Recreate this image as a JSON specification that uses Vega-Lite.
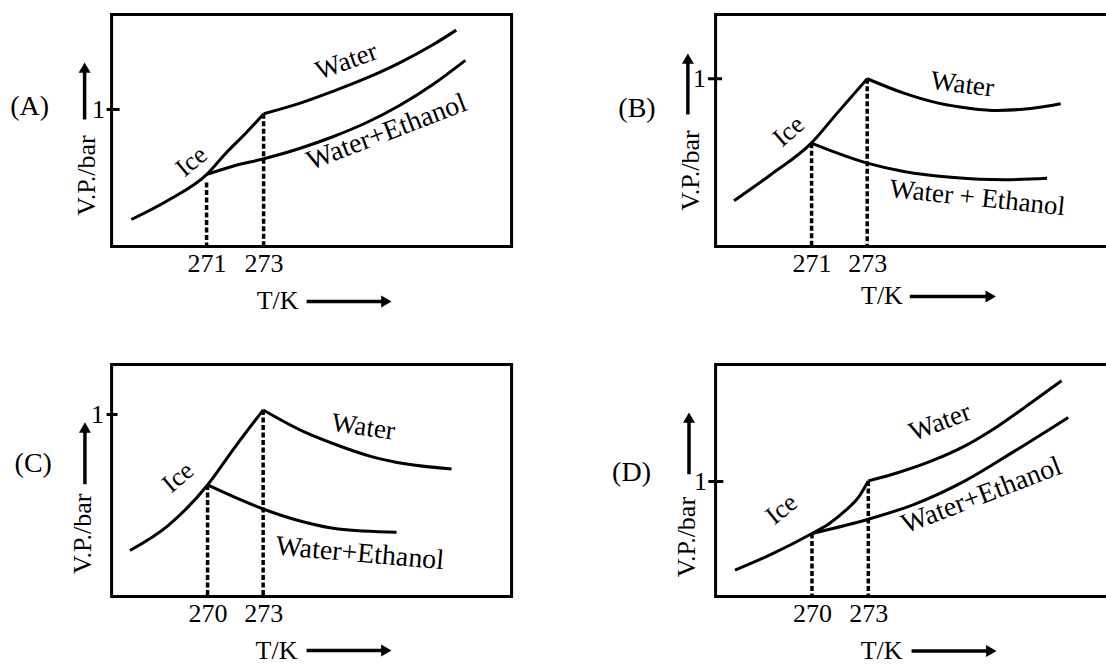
{
  "$schema": "https://vega.github.io/schema/vega-lite/v6.json",
  "background": "white",
  "padding": {"left": 8.6, "top": 12.5, "right": 0, "bottom": 0},
  "columns": 2,
  "spacing": {"row": 118, "column": 204},
  "bounds": "flush",
  "concat": [
    {
      "width": 400,
      "height": 232,
      "encoding": {
        "x": {"field": "T", "type": "quantitative", "scale": {"domain": [267.667, 281.702], "nice": false, "zero": false}, "axis": {"values": [271, 273], "title": null}},
        "y": {"field": "VP", "type": "quantitative", "scale": {"domain": [0, 1.693], "nice": false}, "axis": {"values": [1], "title": null, "labelPadding": 7}}
      },
      "layer": [
        {
          "data": {"values": [
            {"series": "Ice", "T": 268.36, "VP": 0.197}, {"series": "Ice", "T": 269.70, "VP": 0.343}, {"series": "Ice", "T": 271.01, "VP": 0.526}, {"series": "Ice", "T": 271.69, "VP": 0.684}, {"series": "Ice", "T": 272.39, "VP": 0.830}, {"series": "Ice", "T": 273.01, "VP": 0.969},
            {"series": "Water", "T": 273.01, "VP": 0.969}, {"series": "Water", "T": 274.26, "VP": 1.044}, {"series": "Water", "T": 275.43, "VP": 1.132}, {"series": "Water", "T": 276.60, "VP": 1.228}, {"series": "Water", "T": 277.77, "VP": 1.340}, {"series": "Water", "T": 278.94, "VP": 1.472}, {"series": "Water", "T": 279.76, "VP": 1.579},
            {"series": "Water+Ethanol", "T": 271.01, "VP": 0.526}, {"series": "Water+Ethanol", "T": 271.92, "VP": 0.586}, {"series": "Water+Ethanol", "T": 273.01, "VP": 0.640}, {"series": "Water+Ethanol", "T": 274.26, "VP": 0.715}, {"series": "Water+Ethanol", "T": 275.43, "VP": 0.801}, {"series": "Water+Ethanol", "T": 276.60, "VP": 0.903}, {"series": "Water+Ethanol", "T": 277.77, "VP": 1.029}, {"series": "Water+Ethanol", "T": 278.94, "VP": 1.182}, {"series": "Water+Ethanol", "T": 280.08, "VP": 1.358}
          ]},
          "mark": {"type": "line", "interpolate": "monotone", "color": "black", "strokeWidth": 3},
          "encoding": {"detail": {"field": "series"}}
        },
        {
          "data": {"values": [{"T": 271, "VP": 0.467}, {"T": 273, "VP": 0.969}]},
          "mark": {"type": "rule", "strokeDash": [5, 2.5], "strokeWidth": 3.5, "color": "black"},
          "encoding": {"y2": {"datum": 0}}
        },
        {
          "data": {"values": [{"T": 267.49, "T2": 267.95, "VP": 1}]},
          "mark": {"type": "rule", "strokeWidth": 3, "color": "black"},
          "encoding": {"x2": {"field": "T2"}}
        },
        {
          "data": {"values": [{"T": 266.72, "VP": 0.927, "T2": 266.72, "VP2": 1.292}, {"T": 274.509, "VP": -0.401, "T2": 277.309, "VP2": -0.401}]},
          "mark": {"type": "rule", "strokeWidth": 3.5, "color": "black"},
          "encoding": {"x2": {"field": "T2"}, "y2": {"field": "VP2"}}
        },
        {
          "data": {"values": [{"T": 266.72, "VP": 1.305}]},
          "mark": {"type": "point", "shape": "triangle-up", "size": 144, "filled": true, "color": "black", "opacity": 1}
        },
        {
          "data": {"values": [{"T": 277.309, "VP": -0.401}]},
          "mark": {"type": "point", "shape": "triangle-right", "size": 144, "filled": true, "color": "black", "opacity": 1}
        },
        {
          "data": {"values": [{"label": "(A)", "T": 264.79, "VP": 1.015}]},
          "mark": {"type": "text", "fontSize": 28},
          "encoding": {"text": {"field": "label"}}
        },
        {
          "data": {"values": [{"label": "T/K", "T": 273.49, "VP": -0.401}]},
          "mark": {"type": "text"},
          "encoding": {"text": {"field": "label"}}
        },
        {
          "data": {"values": [{"label": "V.P./bar", "T": 266.79, "VP": 0.518}]},
          "mark": {"type": "text", "angle": 270},
          "encoding": {"text": {"field": "label"}}
        },
        {
          "data": {"values": [{"label": "Ice", "T": 270.47, "VP": 0.62}]},
          "mark": {"type": "text", "angle": -40},
          "encoding": {"text": {"field": "label"}}
        },
        {
          "data": {"values": [{"label": "Water", "T": 275.91, "VP": 1.35}]},
          "mark": {"type": "text", "angle": -20, "fontSize": 27},
          "encoding": {"text": {"field": "label"}}
        },
        {
          "data": {"values": [{"label": "Water+Ethanol", "T": 277.32, "VP": 0.832}]},
          "mark": {"type": "text", "angle": -21, "fontSize": 28},
          "encoding": {"text": {"field": "label"}}
        }
      ]
    },
    {
      "width": 400,
      "height": 232,
      "encoding": {
        "x": {"field": "T", "type": "quantitative", "scale": {"domain": [267.547, 281.935], "nice": false, "zero": false}, "axis": {"values": [271, 273], "title": null}},
        "y": {"field": "VP", "type": "quantitative", "scale": {"domain": [0, 1.383], "nice": false}, "axis": {"values": [1], "title": null, "labelPadding": 10}}
      },
      "layer": [
        {
          "data": {"values": [
            {"series": "Ice", "T": 268.21, "VP": 0.273}, {"series": "Ice", "T": 269.53, "VP": 0.428}, {"series": "Ice", "T": 270.99, "VP": 0.616}, {"series": "Ice", "T": 271.92, "VP": 0.795}, {"series": "Ice", "T": 273.0, "VP": 1.0},
            {"series": "Water", "T": 273.0, "VP": 1.0}, {"series": "Water", "T": 274.32, "VP": 0.914}, {"series": "Water", "T": 275.52, "VP": 0.856}, {"series": "Water", "T": 276.72, "VP": 0.823}, {"series": "Water", "T": 277.68, "VP": 0.811}, {"series": "Water", "T": 278.88, "VP": 0.823}, {"series": "Water", "T": 279.96, "VP": 0.851},
            {"series": "Water+Ethanol", "T": 270.99, "VP": 0.616}, {"series": "Water+Ethanol", "T": 273.0, "VP": 0.497}, {"series": "Water+Ethanol", "T": 274.32, "VP": 0.447}, {"series": "Water+Ethanol", "T": 276.12, "VP": 0.411}, {"series": "Water+Ethanol", "T": 277.92, "VP": 0.398}, {"series": "Water+Ethanol", "T": 279.47, "VP": 0.407}
          ]},
          "mark": {"type": "line", "interpolate": "monotone", "color": "black", "strokeWidth": 3},
          "encoding": {"detail": {"field": "series"}}
        },
        {
          "data": {"values": [{"T": 271, "VP": 0.616}, {"T": 273, "VP": 1.0}]},
          "mark": {"type": "rule", "strokeDash": [5, 2.5], "strokeWidth": 3.5, "color": "black"},
          "encoding": {"y2": {"datum": 0}}
        },
        {
          "data": {"values": [{"T": 267.27, "T2": 267.78, "VP": 1}]},
          "mark": {"type": "rule", "strokeWidth": 3, "color": "black"},
          "encoding": {"x2": {"field": "T2"}}
        },
        {
          "data": {"values": [{"T": 266.55, "VP": 0.787, "T2": 266.55, "VP2": 1.12}, {"T": 274.533, "VP": -0.298, "T2": 277.442, "VP2": -0.298}]},
          "mark": {"type": "rule", "strokeWidth": 3.5, "color": "black"},
          "encoding": {"x2": {"field": "T2"}, "y2": {"field": "VP2"}}
        },
        {
          "data": {"values": [{"T": 266.55, "VP": 1.12}]},
          "mark": {"type": "point", "shape": "triangle-up", "size": 144, "filled": true, "color": "black", "opacity": 1}
        },
        {
          "data": {"values": [{"T": 277.442, "VP": -0.298}]},
          "mark": {"type": "point", "shape": "triangle-right", "size": 144, "filled": true, "color": "black", "opacity": 1}
        },
        {
          "data": {"values": [{"label": "(B)", "T": 264.72, "VP": 0.817}]},
          "mark": {"type": "text", "fontSize": 28},
          "encoding": {"text": {"field": "label"}}
        },
        {
          "data": {"values": [{"label": "T/K", "T": 273.53, "VP": -0.298}]},
          "mark": {"type": "text"},
          "encoding": {"text": {"field": "label"}}
        },
        {
          "data": {"values": [{"label": "V.P./bar", "T": 266.66, "VP": 0.453}]},
          "mark": {"type": "text", "angle": 270},
          "encoding": {"text": {"field": "label"}}
        },
        {
          "data": {"values": [{"label": "Ice", "T": 270.18, "VP": 0.686}]},
          "mark": {"type": "text", "angle": -41},
          "encoding": {"text": {"field": "label"}}
        },
        {
          "data": {"values": [{"label": "Water", "T": 276.42, "VP": 0.964}]},
          "mark": {"type": "text", "angle": 7, "fontSize": 27},
          "encoding": {"text": {"field": "label"}}
        },
        {
          "data": {"values": [{"label": "Water + Ethanol", "T": 276.96, "VP": 0.288}]},
          "mark": {"type": "text", "angle": 6, "fontSize": 27},
          "encoding": {"text": {"field": "label"}}
        }
      ]
    },
    {
      "width": 400,
      "height": 232,
      "encoding": {
        "x": {"field": "T", "type": "quantitative", "scale": {"domain": [264.82, 286.41], "nice": false, "zero": false}, "axis": {"values": [270, 273], "title": null}},
        "y": {"field": "VP", "type": "quantitative", "scale": {"domain": [0, 1.275], "nice": false}, "axis": {"values": [1], "title": null, "labelPadding": 8}}
      },
      "layer": [
        {
          "data": {"values": [
            {"series": "Ice", "T": 265.81, "VP": 0.253}, {"series": "Ice", "T": 267.87, "VP": 0.390}, {"series": "Ice", "T": 270.0, "VP": 0.613}, {"series": "Ice", "T": 271.47, "VP": 0.820}, {"series": "Ice", "T": 273.0, "VP": 1.025},
            {"series": "Water", "T": 273.0, "VP": 1.025}, {"series": "Water", "T": 275.25, "VP": 0.903}, {"series": "Water", "T": 277.05, "VP": 0.830}, {"series": "Water", "T": 278.85, "VP": 0.769}, {"series": "Water", "T": 280.65, "VP": 0.729}, {"series": "Water", "T": 283.17, "VP": 0.701},
            {"series": "Water+Ethanol", "T": 270.0, "VP": 0.613}, {"series": "Water+Ethanol", "T": 273.0, "VP": 0.481}, {"series": "Water+Ethanol", "T": 275.25, "VP": 0.408}, {"series": "Water+Ethanol", "T": 277.05, "VP": 0.371}, {"series": "Water+Ethanol", "T": 280.20, "VP": 0.353}
          ]},
          "mark": {"type": "line", "interpolate": "monotone", "color": "black", "strokeWidth": 3},
          "encoding": {"detail": {"field": "series"}}
        },
        {
          "data": {"values": [{"T": 270, "VP": 0.613}, {"T": 273, "VP": 1.025}]},
          "mark": {"type": "rule", "strokeDash": [5, 2.5], "strokeWidth": 3.5, "color": "black"},
          "encoding": {"y2": {"datum": 0}}
        },
        {
          "data": {"values": [{"T": 264.55, "T2": 265.14, "VP": 1}]},
          "mark": {"type": "rule", "strokeWidth": 3, "color": "black"},
          "encoding": {"x2": {"field": "T2"}}
        },
        {
          "data": {"values": [{"T": 263.38, "VP": 0.617, "T2": 263.38, "VP2": 0.929}, {"T": 275.343, "VP": -0.297, "T2": 279.649, "VP2": -0.297}]},
          "mark": {"type": "rule", "strokeWidth": 3.5, "color": "black"},
          "encoding": {"x2": {"field": "T2"}, "y2": {"field": "VP2"}}
        },
        {
          "data": {"values": [{"T": 263.38, "VP": 0.929}]},
          "mark": {"type": "point", "shape": "triangle-up", "size": 144, "filled": true, "color": "black", "opacity": 1}
        },
        {
          "data": {"values": [{"T": 279.649, "VP": -0.297}]},
          "mark": {"type": "point", "shape": "triangle-right", "size": 144, "filled": true, "color": "black", "opacity": 1}
        },
        {
          "data": {"values": [{"label": "(C)", "T": 260.59, "VP": 0.729}]},
          "mark": {"type": "text", "fontSize": 28},
          "encoding": {"text": {"field": "label"}}
        },
        {
          "data": {"values": [{"label": "T/K", "T": 273.72, "VP": -0.297}]},
          "mark": {"type": "text"},
          "encoding": {"text": {"field": "label"}}
        },
        {
          "data": {"values": [{"label": "V.P./bar", "T": 263.29, "VP": 0.345}]},
          "mark": {"type": "text", "angle": 270},
          "encoding": {"text": {"field": "label"}}
        },
        {
          "data": {"values": [{"label": "Ice", "T": 268.41, "VP": 0.655}]},
          "mark": {"type": "text", "angle": -40},
          "encoding": {"text": {"field": "label"}}
        },
        {
          "data": {"values": [{"label": "Water", "T": 278.40, "VP": 0.930}]},
          "mark": {"type": "text", "angle": 8, "fontSize": 27},
          "encoding": {"text": {"field": "label"}}
        },
        {
          "data": {"values": [{"label": "Water+Ethanol", "T": 278.22, "VP": 0.234}]},
          "mark": {"type": "text", "angle": 5, "fontSize": 28},
          "encoding": {"text": {"field": "label"}}
        }
      ]
    },
    {
      "width": 400,
      "height": 232,
      "encoding": {
        "x": {"field": "T", "type": "quantitative", "scale": {"domain": [264.867, 286.17], "nice": false, "zero": false}, "axis": {"values": [270, 273], "title": null}},
        "y": {"field": "VP", "type": "quantitative", "scale": {"domain": [0, 2.017], "nice": false}, "axis": {"values": [1], "title": null, "labelPadding": 9}}
      },
      "layer": [
        {
          "data": {"values": [
            {"series": "Ice", "T": 265.90, "VP": 0.229}, {"series": "Ice", "T": 267.85, "VP": 0.368}, {"series": "Ice", "T": 270.0, "VP": 0.548}, {"series": "Ice", "T": 270.87, "VP": 0.629}, {"series": "Ice", "T": 271.76, "VP": 0.744}, {"series": "Ice", "T": 272.47, "VP": 0.861}, {"series": "Ice", "T": 273.0, "VP": 1.005},
            {"series": "Water", "T": 273.0, "VP": 1.005}, {"series": "Water", "T": 274.60, "VP": 1.078}, {"series": "Water", "T": 276.37, "VP": 1.179}, {"series": "Water", "T": 278.15, "VP": 1.310}, {"series": "Water", "T": 279.92, "VP": 1.483}, {"series": "Water", "T": 281.69, "VP": 1.687}, {"series": "Water", "T": 283.29, "VP": 1.875},
            {"series": "Water+Ethanol", "T": 270.0, "VP": 0.548}, {"series": "Water+Ethanol", "T": 273.0, "VP": 0.672}, {"series": "Water+Ethanol", "T": 275.48, "VP": 0.803}, {"series": "Water+Ethanol", "T": 278.15, "VP": 1.005}, {"series": "Water+Ethanol", "T": 280.81, "VP": 1.266}, {"series": "Water+Ethanol", "T": 283.65, "VP": 1.557}
          ]},
          "mark": {"type": "line", "interpolate": "monotone", "color": "black", "strokeWidth": 3},
          "encoding": {"detail": {"field": "series"}}
        },
        {
          "data": {"values": [{"T": 270, "VP": 0.548}, {"T": 273, "VP": 1.005}]},
          "mark": {"type": "rule", "strokeDash": [5, 2.5], "strokeWidth": 3.5, "color": "black"},
          "encoding": {"y2": {"datum": 0}}
        },
        {
          "data": {"values": [{"T": 264.48, "T2": 265.28, "VP": 1}]},
          "mark": {"type": "rule", "strokeWidth": 3, "color": "black"},
          "encoding": {"x2": {"field": "T2"}}
        },
        {
          "data": {"values": [{"T": 263.45, "VP": 1.063, "T2": 263.45, "VP2": 1.555}, {"T": 275.304, "VP": -0.473, "T2": 279.553, "VP2": -0.473}]},
          "mark": {"type": "rule", "strokeWidth": 3.5, "color": "black"},
          "encoding": {"x2": {"field": "T2"}, "y2": {"field": "VP2"}}
        },
        {
          "data": {"values": [{"T": 263.45, "VP": 1.555}]},
          "mark": {"type": "point", "shape": "triangle-up", "size": 144, "filled": true, "color": "black", "opacity": 1}
        },
        {
          "data": {"values": [{"T": 279.553, "VP": -0.473}]},
          "mark": {"type": "point", "shape": "triangle-right", "size": 144, "filled": true, "color": "black", "opacity": 1}
        },
        {
          "data": {"values": [{"label": "(D)", "T": 260.39, "VP": 1.078}]},
          "mark": {"type": "text", "fontSize": 28},
          "encoding": {"text": {"field": "label"}}
        },
        {
          "data": {"values": [{"label": "T/K", "T": 273.71, "VP": -0.473}]},
          "mark": {"type": "text"},
          "encoding": {"text": {"field": "label"}}
        },
        {
          "data": {"values": [{"label": "V.P./bar", "T": 263.32, "VP": 0.516}]},
          "mark": {"type": "text", "angle": 270},
          "encoding": {"text": {"field": "label"}}
        },
        {
          "data": {"values": [{"label": "Ice", "T": 268.38, "VP": 0.759}]},
          "mark": {"type": "text", "angle": -39},
          "encoding": {"text": {"field": "label"}}
        },
        {
          "data": {"values": [{"label": "Water", "T": 276.82, "VP": 1.513}]},
          "mark": {"type": "text", "angle": -21, "fontSize": 27},
          "encoding": {"text": {"field": "label"}}
        },
        {
          "data": {"values": [{"label": "Water+Ethanol", "T": 279.03, "VP": 0.875}]},
          "mark": {"type": "text", "angle": -21, "fontSize": 28},
          "encoding": {"text": {"field": "label"}}
        }
      ]
    }
  ],
  "config": {
    "view": {"stroke": "black", "strokeWidth": 3},
    "axis": {"domain": false, "grid": false, "ticks": false, "labelFont": "Liberation Serif", "labelFontSize": 26, "labelColor": "black"},
    "axisX": {"labelPadding": 4},
    "text": {"font": "Liberation Serif", "fontSize": 26, "color": "black"}
  }
}
